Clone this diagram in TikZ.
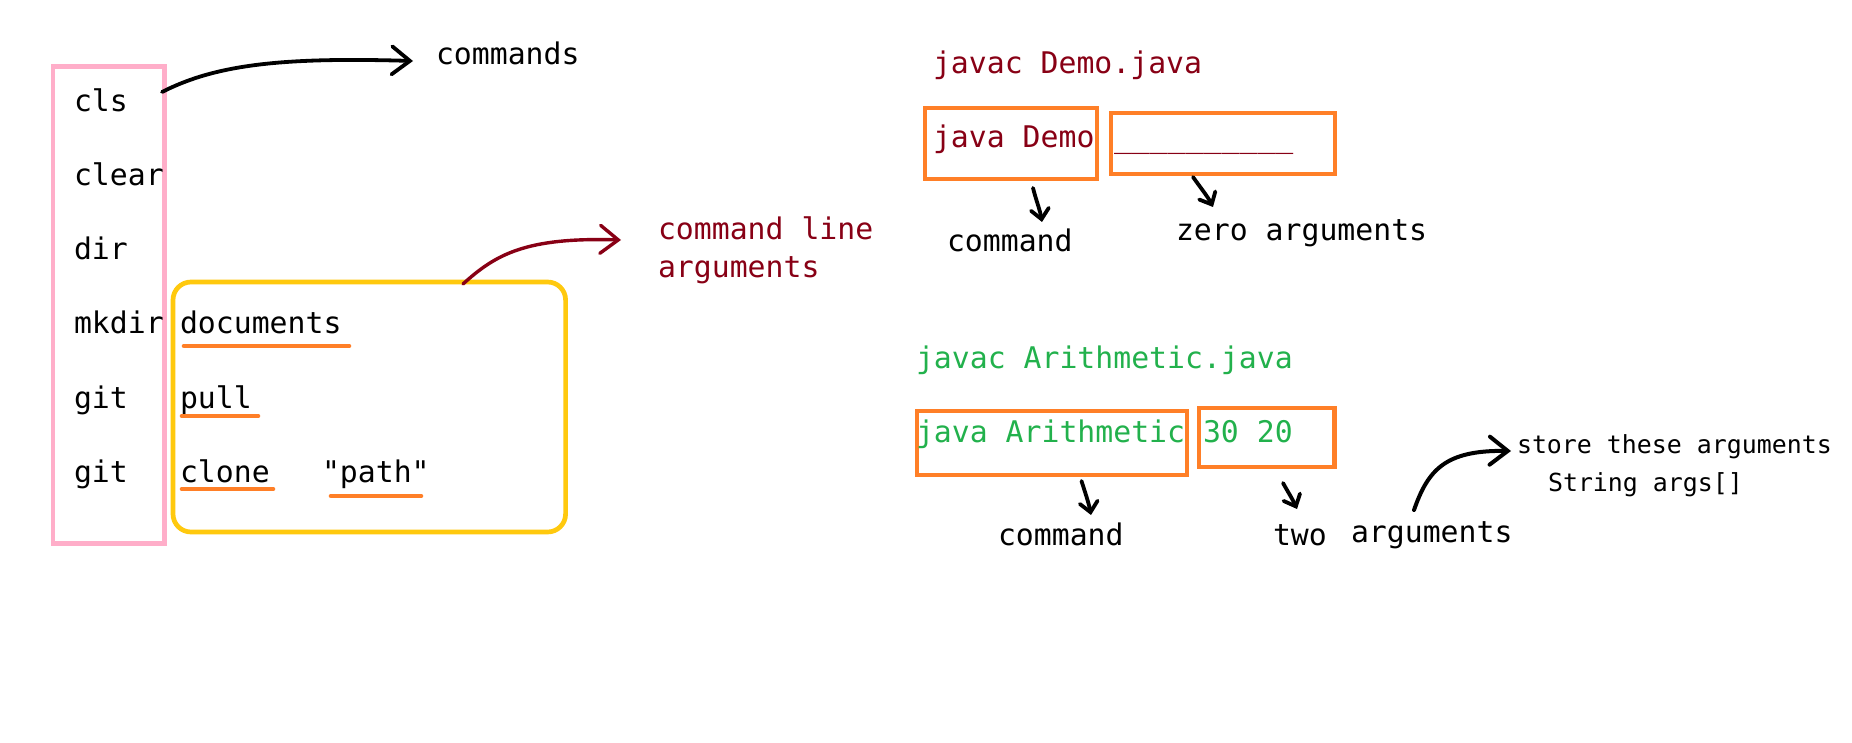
\documentclass[tikz,border=0pt]{standalone}
\usepackage{fontspec}
\newfontfamily\monofont{DejaVu Sans Mono}
\usetikzlibrary{arrows.meta}
\definecolor{pinkc}{HTML}{FFAEC9}
\definecolor{goldc}{HTML}{FFC90E}
\definecolor{orangec}{HTML}{FF7F27}
\definecolor{darkredc}{HTML}{880015}
\definecolor{greenc}{HTML}{22B14C}
\begin{document}
\begin{tikzpicture}[x=1pt,y=-1pt,
  txt/.style={anchor=base west, inner sep=0pt, outer sep=0pt, font=\monofont\fontsize{29.8}{35}\selectfont},
  smalltxt/.style={anchor=base west, inner sep=0pt, outer sep=0pt, font=\monofont\fontsize{24.9}{30}\selectfont},
  frame/.style={draw, inner sep=0pt, outer sep=0pt},
  obox/.style={frame, draw=orangec, line width=4.7pt},
  uline/.style={draw=orangec, line width=4.6pt, line cap=round},
  harrow/.style={line width=3.8pt, line cap=round, line join=round, -{Straight Barb[length=18pt,width=28pt,line cap=round]}},
  sarrow/.style={line width=3.8pt, line cap=round, line join=round, -{Straight Barb[length=10pt,width=18pt,line cap=round]}}
]
\fill[white] (0,0) rectangle (1852,743);
\useasboundingbox (0,0) rectangle (1852,743);

% left column
\node[frame, draw=pinkc, line width=4.5pt, minimum width=111.5pt, minimum height=477pt] (cmdbox) at (108.75,305) {};
\node[frame, draw=goldc, line width=4.7pt, rounded corners=18pt, minimum width=392.6pt, minimum height=250pt] (argbox) at (369.3,407) {};

\node[txt] (cls) at (74,112) {cls};
\node[txt] (clear) at (74,186) {clear};
\node[txt] (dir) at (74,260) {dir};
\node[txt] (mkdir) at (74,334) {mkdir};
\node[txt] (git1) at (74,408) {git};
\node[txt] (git2) at (74,482) {git};

\node[txt] (docs) at (180,333) {documents};
\node[txt] (pull) at (180,408) {pull};
\node[txt] (clone) at (180,482) {clone};
\node[txt] (path) at (322,482) {"path"};

\draw[uline] (184,346) -- (349,346);
\draw[uline] (182,416) -- (258,416);
\draw[uline] (182,489) -- (273,489);
\draw[uline] (331,496) -- (421,496);

\node[txt] (commands) at (436,65) {commands};
\coordinate (c1s) at (162,92);
\coordinate (c1e) at (413,61);
\draw[harrow] (c1s) .. controls (215,65) and (280,57) .. (c1e);

\node[txt, text=darkredc] (cl1) at (658,240) {command line};
\node[txt, text=darkredc] (cl2) at (658,277) {arguments};
\coordinate (c2s) at (463,284);
\coordinate (c2e) at (621,240);
\draw[harrow, draw=darkredc, line width=3.4pt] (c2s) .. controls (495,255) and (525,237) .. (c2e);

% Demo
\node[txt, text=darkredc] (javacdemo) at (933,74) {javac Demo.java};
\node[obox, minimum width=172pt, minimum height=71pt] (box1) at (1011,143.5) {};
\node[obox, minimum width=224pt, minimum height=61pt] (box2) at (1223,143.5) {};
\node[txt, text=darkredc] (javademo) at (933,148) {java Demo};
\node[txt, text=darkredc] (blank) at (1114,148) {\_\_\_\_\_\_\_\_\_\_};
\node[txt] (cmd1) at (947,252) {command};
\node[txt] (zero) at (1176,241) {zero arguments};
\coordinate (d1s) at (1033,188);
\coordinate (d1e) at (1042,222);
\draw[sarrow] (d1s) .. controls (1036,200) and (1040,210) .. (d1e);
\coordinate (d2s) at (1193,177);
\coordinate (d2e) at (1213,207);
\draw[sarrow] (d2s) .. controls (1200,187) and (1208,197) .. (d2e);

% Arithmetic
\node[txt, text=greenc] (javacarith) at (916,368) {javac Arithmetic.java};
\node[obox, minimum width=270pt, minimum height=64pt] (box3) at (1052,443) {};
\node[obox, minimum width=135.5pt, minimum height=59pt] (box4) at (1266.75,437.5) {};
\node[txt, text=greenc] (javaarith) at (916,442) {java Arithmetic};
\node[txt, text=greenc] (nums) at (1203,442) {30 20};
\node[txt] (cmd2) at (998,545) {command};
\node[txt] (two) at (1273,545) {two};
\node[txt] (args) at (1351,542) {arguments};
\coordinate (d3s) at (1081.5,481);
\coordinate (d3e) at (1091,515);
\draw[sarrow] (d3s) .. controls (1085,492) and (1089,504) .. (d3e);
\coordinate (d4s) at (1283,483);
\coordinate (d4e) at (1297,509);
\draw[sarrow] (d4s) .. controls (1288,492) and (1293,500) .. (d4e);

\node[smalltxt] (store) at (1517,453) {store these arguments};
\node[smalltxt] (strargs) at (1548,491) {String args[]};
\coordinate (a5s) at (1414,510);
\coordinate (a5e) at (1511,451);
\draw[harrow, line width=4pt] (a5s) .. controls (1428,470) and (1445,450) .. (a5e);
\end{tikzpicture}
\end{document}
